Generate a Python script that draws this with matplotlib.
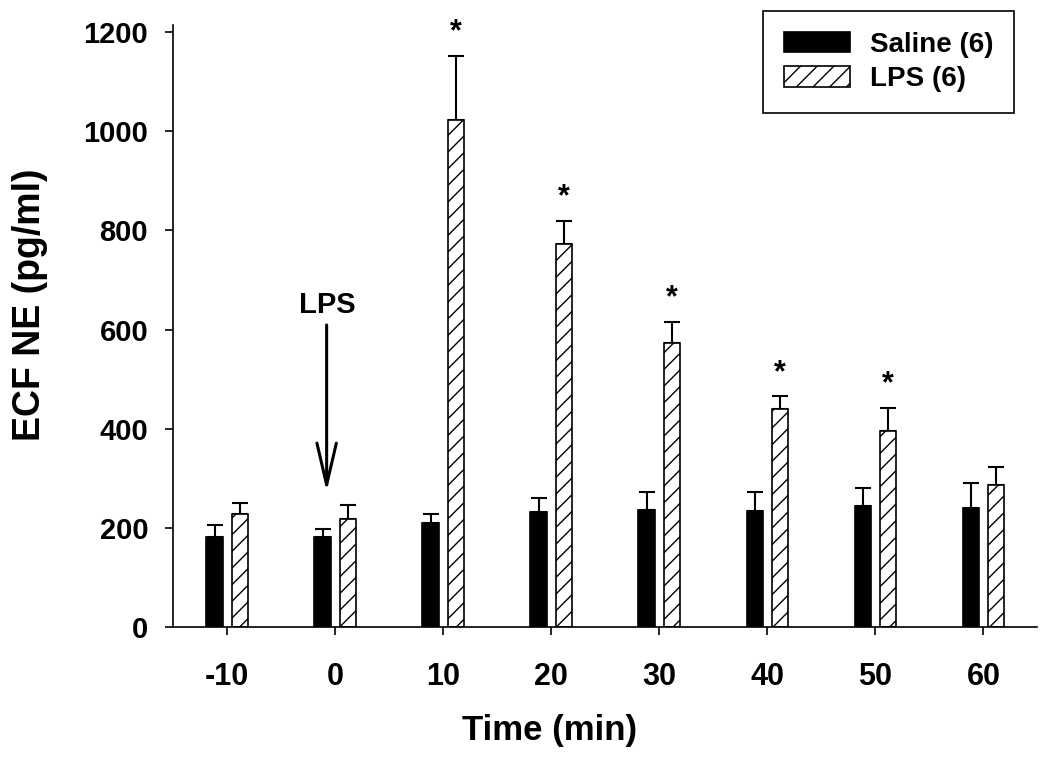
import numpy as np
import matplotlib
matplotlib.use("Agg")
import matplotlib.pyplot as plt

# data
times = ["-10", "0", "10", "20", "30", "40", "50", "60"]
saline = [182, 182, 211, 232, 237, 234, 244, 241]
saline_err = [25, 17, 17, 29, 35, 38, 36, 50]
lps = [229, 218, 1022, 772, 573, 439, 395, 286]
lps_err = [22, 29, 130, 48, 43, 27, 47, 37]
signif = [False, False, True, True, True, True, True, False]

plt.rcParams['font.family'] = ['Liberation Sans', 'DejaVu Sans']
plt.rcParams['font.weight'] = 'bold'
plt.rcParams['hatch.linewidth'] = 1.0

fig = plt.figure(figsize=(10.5, 7.63), dpi=100)
ax = fig.add_axes([0.165, 0.178, 0.823, 0.789])

x = np.arange(len(times))
w = 0.15
off = 0.118

ax.bar(x - off, saline, w, color="black", edgecolor="black", linewidth=1.2,
       label="Saline (6)", zorder=2)
ax.errorbar(x - off, saline, yerr=[np.zeros(len(x)), saline_err], fmt="none",
            ecolor="black", elinewidth=1.5, capsize=5.8, capthick=1.5, zorder=1)

ax.bar(x + off, lps, w, color="white", edgecolor="black", linewidth=1.2,
       hatch="//", label="LPS (6)", zorder=2)
ax.errorbar(x + off, lps, yerr=[np.zeros(len(x)), lps_err], fmt="none",
            ecolor="black", elinewidth=1.5, capsize=5.8, capthick=1.5, zorder=1)

# significance stars
for i in range(len(x)):
    if signif[i]:
        ax.text(x[i] + off, lps[i] + lps_err[i] + 47, "*", ha="center", va="center",
                fontsize=22, fontweight="bold")

# LPS injection arrow
ax.annotate("", xy=(0.92, 268), xytext=(0.92, 615),
            arrowprops=dict(arrowstyle="->,head_length=3.0,head_width=0.7", lw=2.2,
                            color="black"))
ax.text(0.93, 650, "LPS", ha="center", va="center", fontsize=21, fontweight="bold")

ax.set_xlim(-0.5, 7.5)
ax.set_ylim(0, 1214)
ax.set_xticks(x)
ax.set_xticklabels(times)
ax.set_yticks([0, 200, 400, 600, 800, 1000, 1200])

ax.spines["top"].set_visible(False)
ax.spines["right"].set_visible(False)
ax.spines["left"].set_linewidth(1.2)
ax.spines["bottom"].set_linewidth(1.2)
ax.tick_params(axis="both", direction="out", length=6, width=1.2)
ax.tick_params(axis="x", labelsize=22, pad=19)
ax.tick_params(axis="y", labelsize=21, pad=12)

ax.set_xlabel("Time (min)", fontsize=25, fontweight="bold")
ax.xaxis.set_label_coords(0.436, -0.145)
ax.set_ylabel("ECF NE (pg/ml)", fontsize=27, fontweight="bold")
ax.yaxis.set_label_coords(-0.145, 0.535)

leg = ax.legend(loc="upper right", bbox_to_anchor=(0.9657, 0.9856),
                bbox_transform=fig.transFigure, borderaxespad=0, fancybox=False,
                edgecolor="black", framealpha=1, fontsize=20,
                handlelength=2.4, handleheight=0.75, handletextpad=0.7,
                labelspacing=0.3, borderpad=0.75)
leg.get_frame().set_linewidth(1.2)

fig.savefig("out.png", dpi=100)
